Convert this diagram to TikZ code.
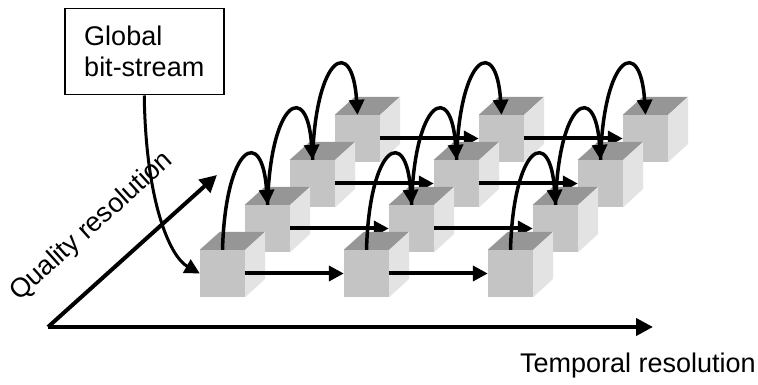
\documentclass[tikz,border=0pt]{standalone}
\usepackage{fontspec}
\setmainfont{Liberation Sans}
\usetikzlibrary{arrows.meta}
\definecolor{cubetop}{gray}{0.59}
\definecolor{cubefront}{gray}{0.77}
\definecolor{cubeside}{gray}{0.89}
\begin{document}
\begin{tikzpicture}[x=1pt,y=1pt,
    font=\fontsize{27}{31}\selectfont,
    face/.style={fill=cubefront, minimum width=45pt, minimum height=47pt, inner sep=0pt},
    axis/.style={-{Triangle[length=17pt,width=17pt]}, line width=4pt},
    link/.style={-{Triangle[length=15pt,width=15pt]}, line width=4pt},
    hop/.style={-{Triangle[length=15pt,width=15pt]}, line width=3.5pt},
    feed/.style={-{Triangle[length=15pt,width=15pt]}, line width=3pt}]
    \useasboundingbox (0,0) rectangle (758,385);
    %Axes
    \coordinate (origin) at (48,58);
    \coordinate (tend) at (653,58);
    \coordinate (qend) at (217,210);
    \draw[axis] (origin)--(tend);
    \draw[axis] (origin)--(qend);
    \node[anchor=base east, inner sep=0pt] (tlabel) at (756,12) {Temporal resolution};
    \node[anchor=base west, rotate=42, inner sep=0pt] (qlabel) at (19,83) {Quality resolution};
    %Cubes, back row first
    \foreach \row in {3,2,1,0}{
        \foreach \col in {0,1,2}{
            \node[face] (f-\row-\col) at ({222.5+45*\row+144*\col},{111.5+45*\row}) {};
            \fill[cubetop] (f-\row-\col.north west)--++(20,18)--++(45,0)--(f-\row-\col.north east)--cycle;
            \fill[cubeside] (f-\row-\col.north east)--++(20,18)--++(0,-47)--(f-\row-\col.south east)--cycle;
        }
        \foreach \col/\nxt in {0/1,1/2}
            \draw[link] (f-\row-\col.east)--(f-\row-\nxt.west);
    }
    %Quality hops
    \foreach \col in {0,1,2}
        \foreach \row/\nxt in {0/1,1/2,2/3}
            \draw[hop] (f-\row-\col.north) .. controls +(3,105) and +(-5,80) .. (f-\nxt-\col.north);
    %Bit-stream
    \node[draw, line width=1.5pt, align=left, minimum width=159pt, minimum height=86pt,
        anchor=north west] (stream) at (64,377) {Global\\bit-stream};
    \draw[feed] (stream.south) .. controls +(1.5,-106) and +(-30,17) .. (f-0-0.west);
\end{tikzpicture}
\end{document}
